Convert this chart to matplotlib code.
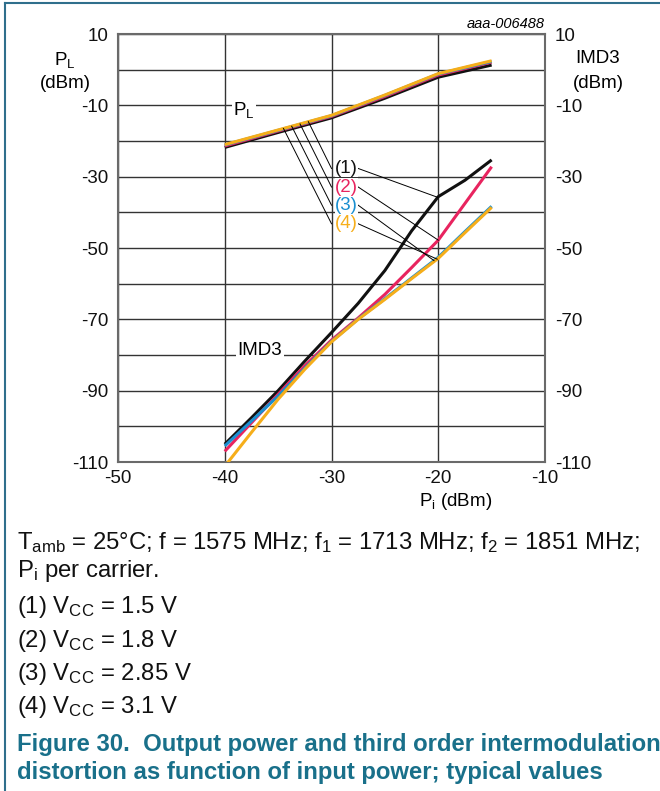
import numpy as np
import matplotlib
matplotlib.use("Agg")
import matplotlib.pyplot as plt
from matplotlib.lines import Line2D

plt.rcParams["font.family"] = ["Liberation Sans", "DejaVu Sans"]
plt.rcParams["mathtext.fontset"] = "custom"
plt.rcParams["mathtext.rm"] = "Liberation Sans"
plt.rcParams["mathtext.it"] = "Liberation Sans:italic"
plt.rcParams["mathtext.bf"] = "Liberation Sans:bold"
plt.rcParams["axes.unicode_minus"] = False

# Input power (dBm)
pi_pl = [-40, -35, -30, -25, -20, -15]
pi_imd = [-40, -37.5, -35, -32.5, -30, -27.5, -25, -22.5, -20, -17.5, -15]

# Output power P_L (dBm) per supply voltage
pl_1v5 = [-21.8, -17.6, -13.5, -8.0, -2.1, 1.3]
pl_1v8 = [-21.4, -17.2, -13.1, -7.5, -1.5, 2.1]
pl_2v85 = [-21.1, -17.0, -12.9, -7.2, -1.2, 2.3]
pl_3v1 = [-21.0, -16.9, -12.8, -7.1, -1.1, 2.5]

# IMD3 (dBm) per supply voltage
imd_1v5 = [-105.0, -97.6, -90.0, -81.7, -73.7, -65.5, -56.3, -45.2, -35.6, -31.0, -25.3]
imd_1v8 = [-107.0, -99.0, -91.0, -83.0, -75.8, -69.6, -63.0, -55.5, -47.8, -37.5, -27.2]
imd_2v85 = [-105.5, -98.5, -91.5, -83.7, -76.2, -69.9, -64.2, -58.4, -52.6, -45.4, -38.3]
imd_3v1 = [-111.2, -101.7, -92.4, -84.0, -76.3, -70.0, -64.4, -58.6, -52.9, -45.7, -38.6]

curve_labels = ["(1)", "(2)", "(3)", "(4)"]
colors = ["#111111", "#e8245f", "#1a8fd0", "#f6ae1a"]

caption_lines = [
    r"T$_\mathrm{amb}$ = 25°C; f = 1575 MHz; f$_\mathrm{1}$ = 1713 MHz; f$_\mathrm{2}$ = 1851 MHz;",
    r"P$_\mathrm{i}$ per carrier.",
    r"(1) V$_\mathrm{CC}$ = 1.5 V",
    r"(2) V$_\mathrm{CC}$ = 1.8 V",
    r"(3) V$_\mathrm{CC}$ = 2.85 V",
    r"(4) V$_\mathrm{CC}$ = 3.1 V",
]
title_lines = [
    "Figure 30.  Output power and third order intermodulation",
    "distortion as function of input power; typical values",
]

fs = 13.5

fig = plt.figure(figsize=(6.6, 7.91), dpi=100)
ax = fig.add_axes([0.1788, 0.4159, 0.647, 0.5411])

pl_sets = [pl_1v5, pl_1v8, pl_2v85, pl_3v1]
imd_sets = [imd_1v5, imd_1v8, imd_2v85, imd_3v1]
for pl, imd, c in zip(pl_sets, imd_sets, colors):
    ax.plot(pi_pl, pl, color=c, lw=2.2, solid_capstyle="butt", zorder=3)
    ax.plot(pi_imd, imd, color=c, lw=2.2, solid_capstyle="butt", zorder=3)

ax.set_xlim(-50, -10)
ax.set_ylim(-110, 10)
ax.set_xticks([-50, -40, -30, -20, -10])
ax.set_yticks(np.arange(-110, 11, 20))
ax.set_yticks(np.arange(-100, 11, 20), minor=True)
ax.grid(True, which="both", color="#333333", lw=1.0, zorder=1)
ax.tick_params(which="both", length=0, labelsize=fs, colors="#111111")
ax.tick_params(axis="y", which="major", labelright=True, pad=7)
ax.tick_params(axis="x", pad=6)
for s in ax.spines.values():
    s.set_color("#6a6a6a")
    s.set_linewidth(1.5)

# curve labels with leader lines
lab_x = -28.6
lab_y = [-27.7, -32.9, -38.0, -43.2]
pl_start = [-32.17, -32.95, -33.73, -34.5]
imd_end = [-20.05, -20.0, -20.4, -20.1]
for i in range(4):
    ax.text(lab_x, lab_y[i], curve_labels[i], color=colors[i], fontsize=fs,
            ha="center", va="center", zorder=5,
            bbox=dict(fc="white", ec="none", pad=0.3))
    y0 = np.interp(pl_start[i], pi_pl, pl_3v1)
    ax.plot([pl_start[i], lab_x - 1.4], [y0, lab_y[i]], color="black", lw=0.7, zorder=4)
    y1 = np.interp(imd_end[i], pi_imd, imd_sets[i])
    ax.plot([lab_x + 1.1, imd_end[i]], [lab_y[i], y1], color="black", lw=0.7, zorder=4)

ax.text(-38.2, -11.2, r"P$_\mathrm{L}$", fontsize=fs, ha="center", va="center",
        zorder=5, bbox=dict(fc="white", ec="none", pad=0.8))
ax.text(-36.7, -80, "IMD3", fontsize=fs, ha="center", va="baseline",
        zorder=5, bbox=dict(fc="white", ec="none", pad=1.2))

# axis titles
fig.text(0.0985, 0.924, r"P$_\mathrm{L}$", fontsize=fs, ha="center", va="center")
fig.text(0.0985, 0.895, "(dBm)", fontsize=fs, ha="center", va="center")
fig.text(0.906, 0.926, "IMD3", fontsize=fs, ha="center", va="center")
fig.text(0.906, 0.895, "(dBm)", fontsize=fs, ha="center", va="center")
fig.text(0.691, 0.3665, r"P$_\mathrm{i}$ (dBm)", fontsize=fs, ha="center", va="center")
fig.text(0.826, 0.9697, "aaa-006488", fontsize=10.5, style="italic", ha="right", va="center")

# caption
cap_y = [0.3056, 0.2709, 0.2246, 0.1824, 0.1403, 0.0982]
for y, t in zip(cap_y, caption_lines):
    fig.text(0.026, y, t, fontsize=17.2, ha="left", va="baseline", color="#111111")
for y, t in zip([0.0512, 0.0158], title_lines):
    fig.text(0.026, y, t, fontsize=17.2, fontweight="bold", ha="left", va="baseline",
             color="#19708a")

# frame lines at top and left
fig.add_artist(Line2D([0.008, 1.0], [0.996, 0.996], color="#2f6f8c", lw=1.5))
fig.add_artist(Line2D([0.008, 0.008], [0.0, 0.996], color="#2f6f8c", lw=1.5))

fig.savefig("out.png", dpi=100)
